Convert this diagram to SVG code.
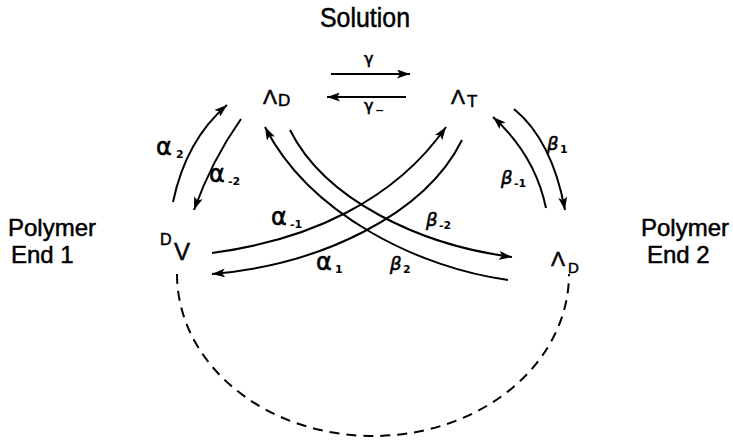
<svg xmlns="http://www.w3.org/2000/svg" width="733" height="443" viewBox="0 0 733 443">
<defs>
<marker id="ah" markerUnits="userSpaceOnUse" markerWidth="14" markerHeight="9" refX="13" refY="4.5" orient="auto">
<path d="M0,0 L13,4.5 L0,9 L3,4.5 z" fill="#000"/>
</marker>
<style>
.ln{fill:none;stroke:#000;stroke-width:2}
.arr{marker-end:url(#ah)}
.dash{fill:none;stroke:#000;stroke-width:2;stroke-dasharray:10,7}
.title{font-family:"Liberation Sans",Arial,sans-serif;font-size:24px;fill:#000;stroke:#000;stroke-width:0.5}
.sp{font-family:"Liberation Sans",Arial,sans-serif;fill:#000;stroke:#000;stroke-width:0.5}
.gk{font-family:"DejaVu Sans",sans-serif;fill:#000;stroke:#000;stroke-width:0.6}
.it{font-style:italic}
.sub{font-family:"DejaVu Sans",sans-serif;font-weight:bold;font-size:11px;fill:#000}
</style>
</defs>
<rect width="733" height="443" fill="#fff"/>
<text class="title" x="320" y="27" textLength="90" lengthAdjust="spacingAndGlyphs" style="font-size:27px">Solution</text>
<g id="end1"><text class="title" x="8" y="236">Polymer</text><text class="title" x="11" y="263">End 1</text></g>
<g id="end2"><text class="title" x="641" y="236">Polymer</text><text class="title" x="647" y="263">End 2</text></g>
<g id="LambdaD_top"><text class="sp" x="263" y="104" font-size="21">Λ</text><text class="sp" x="278" y="106" font-size="17">D</text></g>
<g id="LambdaT"><text class="sp" x="451" y="104" font-size="21">Λ</text><text class="sp" x="467" y="107" font-size="17">T</text></g>
<g id="DV"><text class="sp" x="160" y="245" font-size="16">D</text><text class="sp" x="174" y="260" font-size="24">V</text></g>
<g id="LambdaD_end2"><text class="sp" x="551" y="266" font-size="21">Λ</text><text class="sp" x="568" y="273" font-size="15">D</text></g>
<g id="connectors">
<path class="ln arr" d="M331,74 L410,74"/>
<path class="ln arr" d="M406,97 L327,97"/>
<path class="ln arr" d="M173,202 Q186,140 227,105"/>
<path class="ln arr" d="M241,119 Q212,160 194,210"/>
<path class="ln arr" d="M514,109 Q552,140 565,210"/>
<path class="ln arr" d="M546,208 Q535,155 493,117"/>
<path class="ln arr" d="M212,253 C310,240 395,200 446,127"/>
<path class="ln arr" d="M462,140 C425,215 320,265 212,274"/>
<path class="ln arr" d="M290,130 C325,200 420,245 512,257"/>
<path class="ln arr" d="M508,280 C420,268 310,215 265,127"/>
<path class="dash" d="M177,274 A196,162 0 0 0 569,274"/>
</g>
<g id="labels">
<text class="gk" x="364" y="64" font-size="16">γ</text>
<text class="gk" x="364" y="111" font-size="16">γ</text><text class="sub" x="375" y="114">−</text>
<text class="gk" x="156" y="155" font-size="24">α</text><text class="sub" x="176" y="158">2</text>
<text class="gk" x="209" y="182" font-size="24">α</text><text class="sub" x="228" y="185">-2</text>
<text class="gk" x="271" y="225" font-size="24">α</text><text class="sub" x="290" y="228">-1</text>
<text class="gk" x="316" y="270" font-size="24">α</text><text class="sub" x="335" y="273">1</text>
<text class="gk it" x="547" y="150" font-size="18">β</text><text class="sub" x="560" y="153">1</text>
<text class="gk it" x="501" y="184" font-size="18">β</text><text class="sub" x="514" y="187">-1</text>
<text class="gk it" x="426" y="226" font-size="18">β</text><text class="sub" x="439" y="229">-2</text>
<text class="gk it" x="390" y="270" font-size="18">β</text><text class="sub" x="403" y="273">2</text>
</g>
</svg>
